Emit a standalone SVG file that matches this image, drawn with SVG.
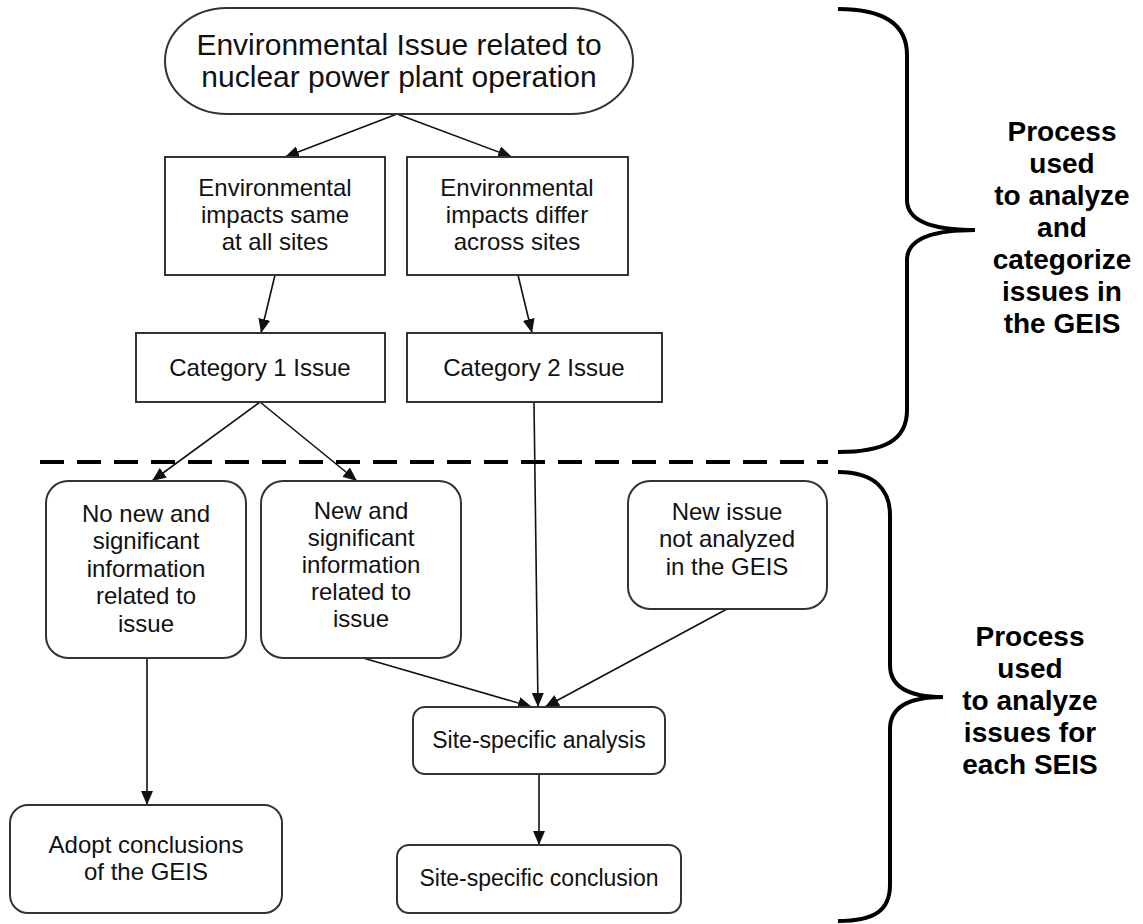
<svg xmlns="http://www.w3.org/2000/svg" width="1143" height="924" viewBox="0 0 1143 924">
<defs>
<marker id="arr" viewBox="0 0 14 12" refX="14" refY="6" markerWidth="14" markerHeight="12" markerUnits="userSpaceOnUse" orient="auto">
<path d="M0,0 L14,6 L0,12 z" fill="#111"/>
</marker>
<style>
.box{fill:#fff;stroke:#333;stroke-width:2}
.t{font-family:"Liberation Sans",Arial,sans-serif;font-size:24px;fill:#111;text-anchor:middle}
.big{font-size:30px}
.sm{font-size:23px}
.b{font-family:"Liberation Sans",Arial,sans-serif;font-size:28px;font-weight:bold;fill:#000;text-anchor:middle}
.c{stroke:#111;stroke-width:1.6;fill:none;marker-end:url(#arr)}
.brace{fill:none;stroke:#000;stroke-width:4}
</style>
</defs>
<rect width="1143" height="924" fill="#fff"/>

<g id="connectors">
<line class="c" x1="397" y1="114" x2="285" y2="157"/>
<line class="c" x1="397" y1="114" x2="512" y2="157"/>
<line class="c" x1="275" y1="275" x2="261" y2="333"/>
<line class="c" x1="518" y1="275" x2="532" y2="333"/>
<line class="c" x1="260" y1="402" x2="152" y2="481"/>
<line class="c" x1="260" y1="402" x2="357" y2="481"/>
<line class="c" x1="534" y1="402" x2="538" y2="707"/>
<line class="c" x1="363" y1="658" x2="532" y2="707"/>
<line class="c" x1="727" y1="609" x2="545" y2="707"/>
<line class="c" x1="147" y1="658" x2="147" y2="805"/>
<line class="c" x1="539" y1="774" x2="539" y2="845"/>
</g>

<g id="divider">
<line x1="40" y1="462" x2="828" y2="462" stroke="#000" stroke-width="4" stroke-dasharray="24 13"/>
</g>

<g id="start">
<rect class="box" x="165" y="8" width="468" height="106" rx="62" ry="53"/>
<text class="t big" x="399" y="55">Environmental Issue related to</text>
<text class="t big" x="399" y="87">nuclear power plant operation</text>
</g>

<g id="same">
<rect class="box" x="165" y="157" width="220" height="118"/>
<text class="t" x="275" y="196">Environmental</text>
<text class="t" x="275" y="223">impacts same</text>
<text class="t" x="275" y="250">at all sites</text>
</g>

<g id="differ">
<rect class="box" x="407" y="157" width="221" height="118"/>
<text class="t" x="517" y="196">Environmental</text>
<text class="t" x="517" y="223">impacts differ</text>
<text class="t" x="517" y="250">across sites</text>
</g>

<g id="cat1">
<rect class="box" x="136" y="333" width="249" height="69"/>
<text class="t" x="260" y="376">Category 1 Issue</text>
</g>

<g id="cat2">
<rect class="box" x="407" y="333" width="255" height="69"/>
<text class="t" x="534" y="376">Category 2 Issue</text>
</g>

<g id="nonew">
<rect class="box" x="46" y="481" width="200" height="177" rx="22" ry="22"/>
<text class="t" x="146" y="522">No new and</text>
<text class="t" x="146" y="549">significant</text>
<text class="t" x="146" y="577">information</text>
<text class="t" x="146" y="604">related to</text>
<text class="t" x="146" y="632">issue</text>
</g>

<g id="newinfo">
<rect class="box" x="261" y="481" width="200" height="177" rx="22" ry="22"/>
<text class="t" x="361" y="519">New and</text>
<text class="t" x="361" y="546">significant</text>
<text class="t" x="361" y="573">information</text>
<text class="t" x="361" y="600">related to</text>
<text class="t" x="361" y="627">issue</text>
</g>

<g id="newissue">
<rect class="box" x="628" y="481" width="199" height="128" rx="22" ry="22"/>
<text class="t" x="727" y="520">New issue</text>
<text class="t" x="727" y="547">not analyzed</text>
<text class="t" x="727" y="575">in the GEIS</text>
</g>

<g id="analysis">
<rect class="box" x="413" y="707" width="252" height="67" rx="12" ry="12"/>
<text class="t sm" x="539" y="748">Site-specific analysis</text>
</g>

<g id="conclusion">
<rect class="box" x="397" y="845" width="284" height="68" rx="12" ry="12"/>
<text class="t sm" x="539" y="886">Site-specific conclusion</text>
</g>

<g id="adopt">
<rect class="box" x="10" y="805" width="272" height="108" rx="18" ry="18"/>
<text class="t" x="146" y="853">Adopt conclusions</text>
<text class="t" x="146" y="880">of the GEIS</text>
</g>

<g id="brace1">
<path class="brace" d="M838,9 C885,9 907,25 907,55 L907,200 C907,218 925,230 975,230 C925,230 907,242 907,260 L907,410 C907,440 885,452 838,452"/>
<text class="b" x="1062" y="141">Process</text>
<text class="b" x="1062" y="173">used</text>
<text class="b" x="1062" y="205">to analyze</text>
<text class="b" x="1062" y="237">and</text>
<text class="b" x="1062" y="269">categorize</text>
<text class="b" x="1062" y="301">issues in</text>
<text class="b" x="1062" y="333">the GEIS</text>
</g>

<g id="brace2">
<path class="brace" d="M838,472 C875,472 890,490 890,515 L890,665 C890,685 905,697 943,697 C905,697 890,709 890,729 L890,885 C890,910 875,921 838,921"/>
<text class="b" x="1030" y="646">Process</text>
<text class="b" x="1030" y="678">used</text>
<text class="b" x="1030" y="710">to analyze</text>
<text class="b" x="1030" y="742">issues for</text>
<text class="b" x="1030" y="774">each SEIS</text>
</g>
</svg>
